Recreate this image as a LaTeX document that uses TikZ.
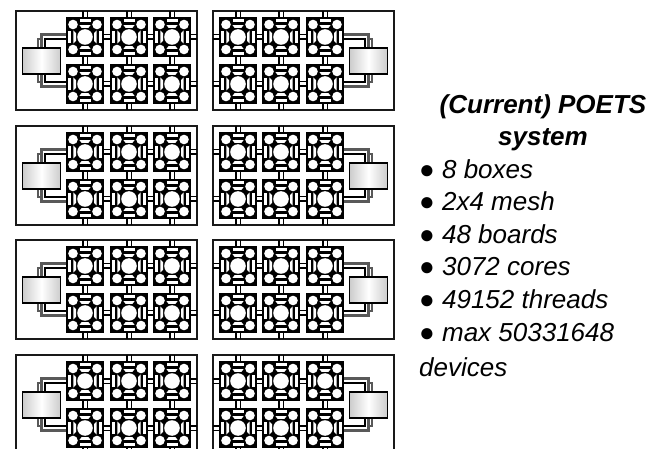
\documentclass[tikz,border=0pt]{standalone}
\usepackage{fontspec}
\setmainfont{Liberation Sans}
\tikzset{
 wire/.style={draw=black,line width=1.8pt},
 wiregrey/.style={draw=black!65,line width=2.2pt},
 frame/.style={draw=black!90,line width=1.6pt,fill=white},
 ioface/.style={draw=black,line width=1.7pt,left color=black!20,right color=black!20,middle color=white},
 label/.style={anchor=base west,font=\fontsize{26}{28}\selectfont\itshape,inner sep=0pt},
 heading/.style={anchor=base,font=\fontsize{26}{28}\selectfont\bfseries\itshape,inner sep=0pt},
}
% chip: local origin is its top-left corner, 38 by 40 px
\newcommand{\chipglyph}[2]{%
 \begin{scope}[shift={(#1,#2)}]
  \fill[black] (0,0) rectangle (38,40);
  \fill[white] (7,7.5) circle (4.8) (31,7.5) circle (4.8) (7,32.5) circle (4.8) (31,32.5) circle (4.8) (19,20) circle (7.8);
  \fill[white] (13.5,2.4) rectangle (24.5,5);
  \fill[white] (13.5,8.2) -- (24.5,8.2) -- (22.5,10.8) -- (15.5,10.8) -- cycle;
  \fill[white] (13.5,35) rectangle (24.5,37.6);
  \fill[white] (13.5,31.8) -- (24.5,31.8) -- (22.5,29.2) -- (15.5,29.2) -- cycle;
  \fill[white] (2.4,14) rectangle (5,26);
  \fill[white] (33,14) rectangle (35.6,26);
  \fill[white] (7.4,13.5) -- (10,16) -- (10,24) -- (7.4,26.5) -- cycle;
  \fill[white] (30.6,13.5) -- (28,16) -- (28,24) -- (30.6,26.5) -- cycle;
 \end{scope}}
% one box; #1 = y of its top edge
\newcommand{\boxleft}[1]{%
 \begin{scope}[shift={(0,#1)}]
  \path[frame] (16,0) rectangle (197,99);
  \foreach \cx in {85,129,172}{
    \foreach \dx in {-2.4,2.4}{
      \draw[wire] (\cx+\dx,0) -- (\cx+\dx,6);
      \draw[wire] (\cx+\dx,46) -- (\cx+\dx,53);
      \draw[wire] (\cx+\dx,93) -- (\cx+\dx,99);
    }
  }
  \foreach \cy in {26,73}{
    \foreach \dy in {-2.4,2.4}{
      \foreach \xa/\xb in {104/110,148/153,191/197}{
        \draw[wire] (\xa,\cy+\dy) -- (\xb,\cy+\dy);
      }
    }
  }
  \draw[wiregrey] (66,23.5) -- (41.5,23.5) -- (41.5,37);
  \draw[wire] (66,27.8) -- (45,27.8) -- (45,37);
  \draw[wiregrey] (41.5,27.8) -- (38,27.8) -- (38,37);
  \draw[wiregrey] (66,75.5) -- (41.5,75.5) -- (41.5,63);
  \draw[wire] (66,71.2) -- (45,71.2) -- (45,63);
  \draw[wiregrey] (41.5,71.2) -- (38,71.2) -- (38,63);
  \path[ioface] (22.5,37) rectangle (60.5,63);
  \foreach \xc in {66,110,153}{
    \chipglyph{\xc}{6}
    \chipglyph{\xc}{53}
  }
 \end{scope}}
\begin{document}
\begin{tikzpicture}[x=1pt,y=-1pt]
\useasboundingbox (0,0) rectangle (662,449);
\fill[white] (0,0) rectangle (662,449);
\begin{scope}
 \clip (0,0) rectangle (662,449);
 \foreach \rowtop in {11,126,240,355}{
   \boxleft{\rowtop}
   \begin{scope}[xscale=-1,xshift=-410pt]
     \boxleft{\rowtop}
   \end{scope}
 }
\end{scope}
\node[heading] (h1) at (543,114) {(Current) POETS};
\node[heading] (h2) at (543,146) {system};
\node[label] (l1) at (419,178.5) {● 8 boxes};
\node[label] (l2) at (419,210.5) {● 2x4 mesh};
\node[label] (l3) at (419,243.5) {● 48 boards};
\node[label] (l4) at (419,275.5) {● 3072 cores};
\node[label] (l5) at (419,308.5) {● 49152 threads};
\node[label] (l6) at (419,341.5) {● max 50331648};
\node[label] (l7) at (419,376.5) {devices};
\end{tikzpicture}
\end{document}
